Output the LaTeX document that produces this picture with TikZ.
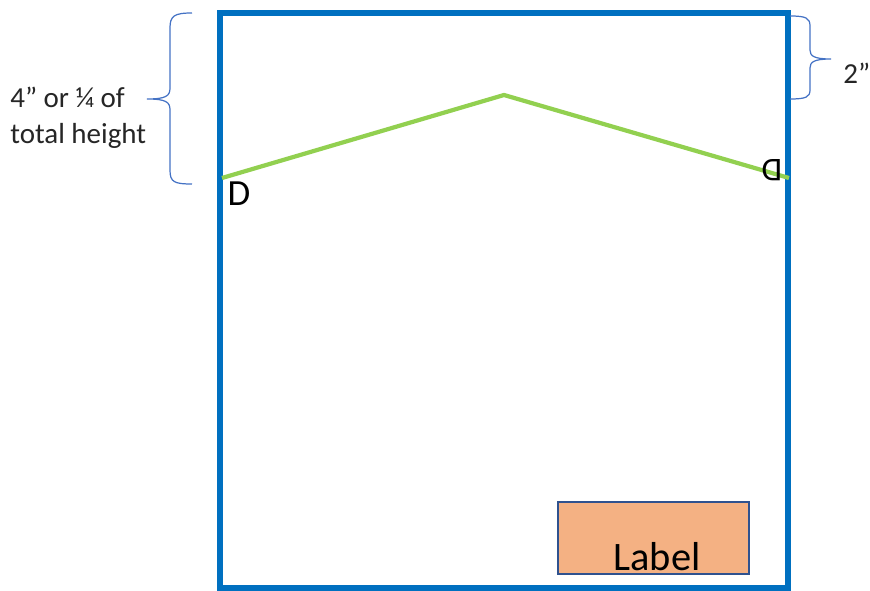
\documentclass[tikz,border=0pt]{standalone}
\usepackage{fontspec}
\setmainfont{Carlito}
\usetikzlibrary{calc,positioning}
\definecolor{framecol}{HTML}{0070C0}
\definecolor{roofcol}{HTML}{92D050}
\definecolor{bracecol}{HTML}{4472C4}
\definecolor{tagfill}{HTML}{F4B183}
\definecolor{tagdraw}{HTML}{2F528F}
\tikzset{
  panel/.style={draw=framecol, line width=2.9pt},
  roofline/.style={draw=roofcol, line width=2.4pt},
  curly/.style={draw=bracecol, line width=.7pt},
  note/.style={
    inner sep=0pt,
    text=black!85,
    font=\fontsize{16.5}{20.4}\selectfont,
    align=left},
  dletter/.style={inner sep=0pt, font=\fontsize{21}{21}\selectfont},
  tagbox/.style={
    rectangle,
    fill=tagfill,
    draw=tagdraw, line width=.6pt,
    minimum width=3.82cm,
    minimum height=1.44cm},
}
\begin{document}
\begin{tikzpicture}
  [x=0.02cm, y=-0.02cm]
  \useasboundingbox (0,0) rectangle (870,591);
  % the frame
  \coordinate (nw) at (220,13);
  \coordinate (se) at (788,588);
  \draw[panel] (nw) rectangle (se);
  % the roof line and its two marks
  \coordinate (eaveL) at (222,178);
  \coordinate (ridge) at (504,95);
  \coordinate (eaveR) at (789,178);
  \draw[roofline] (eaveL) -- (ridge) -- (eaveR);
  \node[dletter] (dleft) at (239,194) {D};
  \node[dletter, rotate=180, scale=.9] (dright) at (772,170) {D};
  % label at the bottom right
  \node[tagbox] (tag) at (653.5,538) {};
  \node[anchor=base, inner sep=0pt, font=\fontsize{23}{23}\selectfont]
    (tagtext) at ($(tag.south)+(3.5,-4)$) {Label};
  %% braces, drawn by hand to get the short curls
  \coordinate (ltop) at (192,13);
  \coordinate (lbot) at (192,184);
  \coordinate (ltip) at (147,99);
  \draw[curly] (ltop) .. controls (174,13) and (170,16) .. (170,28)
    -- (170,88) .. controls (170,96) and (166,99) .. (ltip)
    .. controls (166,99) and (170,102) .. (170,110)
    -- (170,170) .. controls (170,182) and (174,184) .. (lbot);
  \coordinate (rtop) at (790,16);
  \coordinate (rbot) at (790,99);
  \coordinate (rtip) at (831,59);
  \draw[curly] (rtop) .. controls (806,16) and (810,18) .. (810,26)
    -- (810,50) .. controls (810,56) and (814,59) .. (rtip)
    .. controls (814,59) and (810,62) .. (810,68)
    -- (810,90) .. controls (810,97) and (806,99) .. (rbot);
  \node[note, anchor=west] (heightnote) at (10,118) {4” or ¼ of\\total height};
  \node[note, anchor=west] (gapnote) at (843,73) {2”};
\end{tikzpicture}
\end{document}
